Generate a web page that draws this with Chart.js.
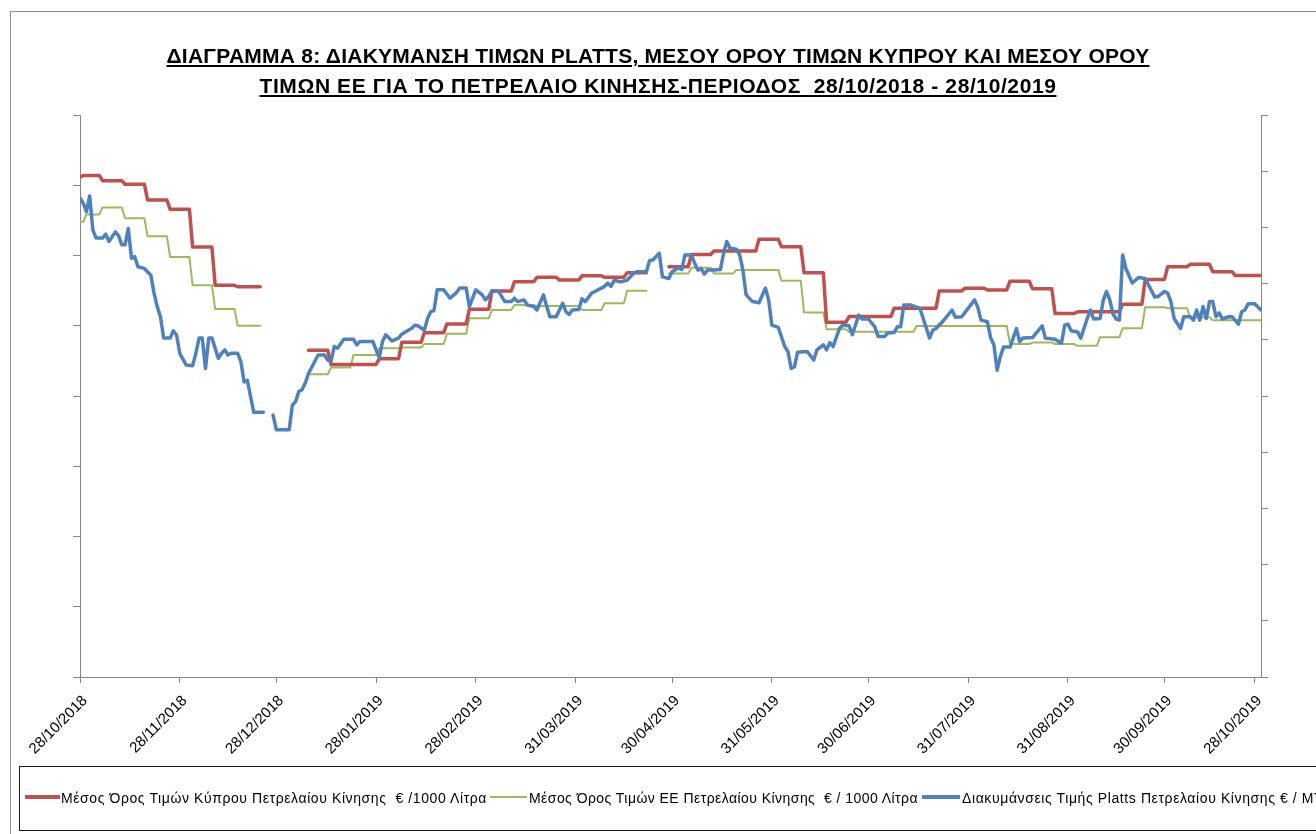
<!DOCTYPE html>
<html><head><meta charset="utf-8">
<script src="https://cdn.jsdelivr.net/npm/chart.js@4.4.1/dist/chart.umd.min.js"></script>
<style>
html,body{margin:0;padding:0;overflow:hidden;background:#fff;}
#wrap{position:relative;width:1316px;height:834px;overflow:hidden;background:#fff;}
#frame{position:absolute;left:10px;top:11px;width:1400px;height:900px;border:1px solid #8e8e8e;}
canvas{position:absolute;left:0;top:0;}
.title{position:absolute;left:0;width:1316px;text-align:center;font:bold 21px "Liberation Sans",Arial,sans-serif;line-height:24px;white-space:nowrap;color:#000;}
.title span{text-decoration:underline;}
#legendBox{position:absolute;left:19px;top:766px;width:1400px;height:63px;border:1px solid #1a1a1a;}
.sample{position:absolute;}
.ltext{position:absolute;top:789px;font:14px "Liberation Sans",Arial,sans-serif;line-height:18px;white-space:nowrap;color:#000;}
</style></head>
<body>
<div id="wrap">
  <div id="frame"></div>
  <canvas id="c" width="1316" height="834"></canvas>
  <div class="title" style="top:44px"><span id="t1" data-w="983">ΔΙΑΓΡΑΜΜΑ 8: ΔΙΑΚΥΜΑΝΣΗ ΤΙΜΩΝ PLATTS, ΜΕΣΟΥ ΟΡΟΥ ΤΙΜΩΝ ΚΥΠΡΟΥ ΚΑΙ ΜΕΣΟΥ ΟΡΟΥ</span></div>
  <div class="title" style="top:74px"><span id="t2" data-w="797">ΤΙΜΩΝ ΕΕ ΓΙΑ ΤΟ ΠΕΤΡΕΛΑΙΟ ΚΙΝΗΣΗΣ-ΠΕΡΙΟΔΟΣ&nbsp; 28/10/2018 - 28/10/2019</span></div>
  <div id="legendBox"></div>
  <div class="sample" style="left:25px;top:795px;width:35px;height:4px;background:#C0504D"></div>
  <span class="ltext" id="l1" data-w="426" style="left:61px">Μέσος Όρος Τιμών Κύπρου Πετρελαίου Κίνησης&nbsp; € /1000 Λίτρα</span>
  <div class="sample" style="left:490px;top:796px;width:37px;height:2px;background:#9BBB59"></div>
  <span class="ltext" id="l2" data-w="389" style="left:529px">Μέσος Όρος Τιμών ΕΕ Πετρελαίου Κίνησης&nbsp; € / 1000 Λίτρα</span>
  <div class="sample" style="left:922px;top:795px;width:38px;height:4px;background:#4F81BD"></div>
  <span class="ltext" id="l3" style="left:962px;letter-spacing:0.6px">Διακυμάνσεις Τιμής Platts Πετρελαίου Κίνησης € / ΜΤ</span>
</div>
<script>
// ---- data (days counted from 28/10/2018) ----
const tickDays = [0, 31, 61, 92, 123, 154, 184, 215, 245, 276, 307, 337, 365];
const tickLabels = ['28/10/2018','28/11/2018','28/12/2018','28/01/2019','28/02/2019','31/03/2019','30/04/2019','31/05/2019','30/06/2019','31/07/2019','31/08/2019','30/09/2019','28/10/2019'];
const axisEndDay = 367;

// Cyprus average price (€/1000 L), weekly change points
const cyprusDays = [0,1,7,14,21,28,35,42,49,57,71,78,93,100,107,114,121,128,135,142,149,156,163,170,177,183,190,197,211,218,225,232,239,253,267,275,282,289,296,303,310,324,331,338,345,352,359,367];
const cyprusValues = [1423,1428,1413,1403,1358,1332,1224,1115,1111,null,930,890,906,953,980,1005,1047,1099,1125,1138,1130,1142,1138,1151,null,1168,1203,1213,1246,1225,1151,1010,1026,1050,1099,1107,1102,1127,1105,1035,1040,1061,1132,1168,1175,1154,1143,1143];

// EU average price (€/1000 L), weekly change points
const euDays = [0,2,7,14,21,28,35,42,49,57,71,78,85,93,100,107,114,121,128,135,142,156,163,170,177,183,190,197,204,218,225,232,239,260,289,296,303,310,317,324,331,338,345,352,367];
const euValues = [1296,1317,1337,1306,1255,1196,1115,1048,1000,null,862,881,917,936,938,948,977,1021,1045,1059,1056,1045,1064,1100,null,1149,1165,1149,1159,1128,1038,990,983,999,948,952,948,943,967,993,1053,1050,1024,1016,1016];

// Platts diesel (€/MT), daily
const plattsDays = [0,1,2,3,4,5,7,8,9,11,12,13,14,15,16,17,18,20,22,23,24,25,26,28,29,30,31,33,35,36,37,38,39,40,41,43,44,45,46,47,49,50,51,52,53,54,57,58,60,61,65,66,67,68,69,70,71,74,76,77,78,79,80,82,85,86,87,91,93,94,95,97,99,100,102,103,104,105,107,108,109,110,111,113,115,117,118,120,121,122,123,125,126,127,128,130,132,134,135,136,138,139,141,142,144,145,146,148,150,151,152,153,155,156,157,159,160,162,163,164,165,166,168,170,172,173,176,177,178,180,181,183,184,186,187,188,190,191,192,193,194,195,197,199,200,201,202,204,205,206,207,209,211,213,214,215,217,219,220,221,222,223,226,228,229,231,232,233,234,236,237,239,240,242,243,245,247,248,250,251,253,254,255,256,258,261,264,265,266,268,271,272,274,278,279,280,282,283,284,285,286,287,289,291,292,293,296,299,300,303,305,306,307,308,310,311,313,314,315,317,318,319,320,321,322,323,324,325,327,329,331,332,334,335,337,338,339,340,342,343,345,346,347,348,349,350,351,352,353,354,355,357,358,360,361,362,363,365,367];
const plattsValues = [852,843,828,856,795,781,781,788,775,792,785,769,769,798,745,748,730,727,715,683,659,641,603,603,616,609,576,555,554,576,603,603,549,603,603,567,576,582,573,576,576,561,525,528,499,471,471,null,466,440,440,484,490,508,511,523,540,573,573,564,562,588,585,601,601,591,597,597,568,597,609,598,603,610,617,620,626,625,617,638,650,652,689,689,674,684,692,692,659,674,689,680,671,677,687,687,668,668,674,668,671,662,659,653,680,660,641,641,665,650,645,653,654,673,668,683,686,692,695,701,695,706,703,706,718,721,721,741,742,754,712,709,721,728,725,751,751,736,724,727,717,724,724,725,754,775,763,761,751,724,680,668,666,692,671,626,622,588,579,549,552,578,579,564,582,591,582,595,588,620,626,625,609,644,637,637,623,606,606,612,613,623,623,662,662,656,603,617,620,632,653,640,641,671,658,635,632,603,591,546,570,587,587,620,597,603,604,625,603,601,594,626,628,616,614,603,638,653,637,638,671,686,671,646,637,635,751,727,701,711,709,698,676,677,686,683,668,638,620,641,641,635,653,635,659,638,668,668,641,648,637,641,641,628,650,653,664,664,653];

// ---- build points ----
function stepPoints(days, vals) {
  const pts = [];
  for (let i = 0; i < days.length; i++) {
    const v = vals[i];
    pts.push({x: days[i], y: v});
    if (v !== null && i < days.length - 1 && days[i + 1] - 1 > days[i]) {
      pts.push({x: days[i + 1] - 1, y: v});
    }
  }
  return pts;
}
const plattsPts = plattsDays.map((d, i) => ({x: d, y: plattsValues[i]}));

// fit text widths
function fit(id) {
  const el = document.getElementById(id);
  const target = parseFloat(el.dataset.w);
  const w = el.getBoundingClientRect().width;
  const n = el.textContent.length;
  el.style.letterSpacing = ((target - w) / n) + 'px';
}
['t1','t2','l1','l2'].forEach(fit);

const axisColor = '#868686';
const fontFam = '"Liberation Sans", Arial, sans-serif';

new Chart(document.getElementById('c'), {
  type: 'line',
  data: {
    datasets: [
      {label: 'Διακυμάνσεις Τιμής Platts', data: plattsPts, yAxisID: 'y1', borderColor: '#4F81BD', borderWidth: 3.5, order: 0},
      {label: 'Κύπρος', data: stepPoints(cyprusDays, cyprusValues), yAxisID: 'y', borderColor: '#C0504D', borderWidth: 3.5, order: 1},
      {label: 'ΕΕ', data: stepPoints(euDays, euValues), yAxisID: 'y', borderColor: '#9BBB59', borderWidth: 2, order: 2}
    ]
  },
  options: {
    responsive: false,
    animation: false,
    layout: {padding: {top: 115, left: 0, right: 0, bottom: 0}},
    plugins: {legend: {display: false}, title: {display: false}, tooltip: {enabled: false}},
    elements: {
      point: {radius: 0, hoverRadius: 0},
      line: {tension: 0, fill: false, borderJoinStyle: 'round', borderCapStyle: 'round', spanGaps: false}
    },
    scales: {
      x: {
        type: 'linear', min: 0, max: axisEndDay,
        afterBuildTicks: s => { s.ticks = tickDays.map(v => ({value: v})); },
        afterFit: s => { s.height = 157; },
        ticks: {
          autoSkip: false, minRotation: 45, maxRotation: 45, padding: 9, labelOffset: 5, color: '#000',
          font: {family: fontFam, size: 15},
          callback: v => { const i = tickDays.indexOf(v); return i >= 0 ? tickLabels[i] : ''; }
        },
        grid: {drawOnChartArea: false, drawTicks: true, tickLength: 6, color: axisColor},
        border: {display: true, color: axisColor, width: 1}
      },
      y: {
        position: 'left', min: 0, max: 1600,
        afterFit: s => { s.width = 80; },
        ticks: {stepSize: 200, callback: () => ''},
        grid: {drawOnChartArea: false, drawTicks: true, tickLength: 7, color: axisColor},
        border: {display: true, color: axisColor, width: 1}
      },
      y1: {
        position: 'right', min: 0, max: 1000,
        afterFit: s => { s.width = 55; },
        ticks: {stepSize: 100, callback: () => ''},
        grid: {drawOnChartArea: false, drawTicks: true, tickLength: 7, color: axisColor},
        border: {display: true, color: axisColor, width: 1}
      }
    }
  }
});
</script>
</body></html>
